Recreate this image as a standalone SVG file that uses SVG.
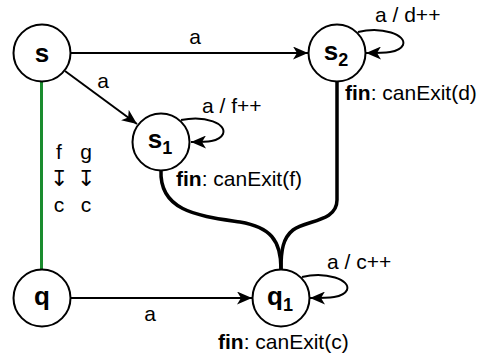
<svg xmlns="http://www.w3.org/2000/svg" width="483" height="356" viewBox="0 0 483 356">
<defs>
<marker id="arr" viewBox="0 0 15 13" refX="15" refY="6.5" markerWidth="15" markerHeight="13" markerUnits="userSpaceOnUse" orient="auto">
<path d="M0,0 L15,6.5 L0,13 L4,6.5 Z" fill="#000"/>
</marker>
<style>
.node circle{fill:#fff;stroke:#000;stroke-width:2}
.nl{font-family:"Liberation Sans",Arial,sans-serif;font-weight:bold;font-size:26px;text-anchor:middle}
.sub{font-size:18px}
.lbl{font-family:"Liberation Sans",Arial,sans-serif;font-size:21px;fill:#000}
.b{font-weight:bold}
.e{fill:none;stroke:#000;stroke-width:2;marker-end:url(#arr)}
.thick{fill:none;stroke:#000;stroke-width:3.5}
.sym{font-family:"DejaVu Sans",sans-serif;font-weight:200;font-size:22px;text-anchor:middle}
</style>
</defs>
<rect width="483" height="356" fill="#fff"/>
<g id="connectors">
<line x1="41.5" y1="82" x2="41.5" y2="270" stroke="#1a8c2e" stroke-width="3"/>
<path class="thick" d="M161,170 C159,212 200,216 240,222 C270,227 281,240 281,269"/>
<path class="thick" d="M337,82 L337,200 C337,222 306,220 293,230 C283,238 281,250 281,269"/>
<path class="e" d="M70,53 L308,53"/>
<path class="e" d="M65,71 L137,124"/>
<path class="e" d="M71,298 L252,298"/>
<path class="e" transform="translate(161,142)" d="M20,-22 C45,-27 66,-18 62,-8 C58,0 46,0 30,0"/>
<path class="e" transform="translate(337,53)" d="M21,-21 C45,-27 70,-18 66,-8 C62,0 48,0 29,0"/>
<path class="e" transform="translate(281,298)" d="M21,-21 C45,-27 70,-18 66,-8 C62,0 48,0 29,0"/>
<text class="lbl" x="195" y="44" text-anchor="middle">a</text>
<text class="lbl" x="103" y="88" text-anchor="middle">a</text>
<text class="lbl" x="150" y="321" text-anchor="middle">a</text>
<text class="lbl" x="202" y="113">a / f++</text>
<text class="lbl" x="375" y="22">a / d++</text>
<text class="lbl" x="327" y="269">a / c++</text>
<text class="lbl" x="59" y="159" text-anchor="middle">f</text>
<text class="lbl" x="86" y="159" text-anchor="middle">g</text>
<text class="sym" x="59" y="186">↧</text>
<text class="sym" x="86" y="186">↧</text>
<text class="lbl" x="59" y="212" text-anchor="middle">c</text>
<text class="lbl" x="86" y="212" text-anchor="middle">c</text>
</g>
<g id="s" class="node">
<circle cx="42" cy="53" r="28.5"/>
<text class="nl" x="42" y="62">s</text>
</g>
<g id="s2" class="node">
<circle cx="337" cy="53" r="28.5"/>
<text class="nl" x="336" y="60">s<tspan class="sub" dy="6">2</tspan></text>
<text class="lbl" x="345" y="100"><tspan class="b">fin</tspan>: canExit(d)</text>
</g>
<g id="s1" class="node">
<circle cx="161" cy="142" r="28.5"/>
<text class="nl" x="160" y="148">s<tspan class="sub" dy="6">1</tspan></text>
<text class="lbl" x="176" y="186"><tspan class="b">fin</tspan>: canExit(f)</text>
</g>
<g id="q" class="node">
<circle cx="42" cy="298" r="28.5"/>
<text class="nl" x="42" y="305">q</text>
</g>
<g id="q1" class="node">
<circle cx="281" cy="298" r="28.5"/>
<text class="nl" x="280" y="305">q<tspan class="sub" dy="6">1</tspan></text>
<text class="lbl" x="218" y="349"><tspan class="b">fin</tspan>: canExit(c)</text>
</g>
</svg>
